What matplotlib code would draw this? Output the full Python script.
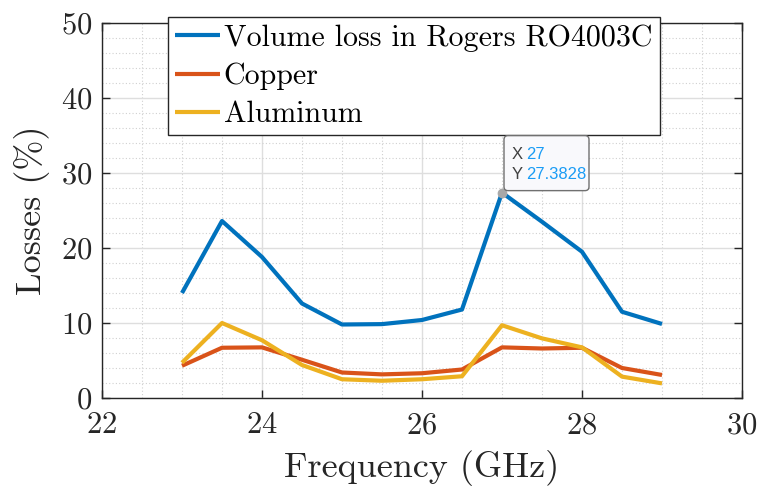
import numpy as np
import matplotlib
matplotlib.use("Agg")
import matplotlib.pyplot as plt
from matplotlib.patches import FancyBboxPatch
from matplotlib.transforms import IdentityTransform

plt.rcParams['font.family'] = ['cmr10', 'DejaVu Serif']
plt.rcParams['axes.formatter.use_mathtext'] = True

# Data
freq = [23, 23.5, 24, 24.5, 25, 25.5, 26, 26.5, 27, 27.5, 28, 28.5, 29]
volume_loss = [14.0, 23.6, 18.8, 12.6, 9.8, 9.85, 10.4, 11.8, 27.3828, 23.5, 19.5, 11.5, 9.87]
copper = [4.3, 6.7, 6.75, 5.1, 3.4, 3.15, 3.3, 3.8, 6.75, 6.6, 6.7, 4.0, 3.07]
aluminum = [4.7, 10.0, 7.7, 4.4, 2.5, 2.3, 2.5, 2.9, 9.7, 7.95, 6.75, 2.85, 1.95]
labels = ['Volume loss in Rogers RO4003C', 'Copper', 'Aluminum']
colors = ['#0072BD', '#D95319', '#EDB120']
tip_x, tip_y = 27, 27.3828

fig = plt.figure(figsize=(7.6, 4.91), dpi=100)
ax = fig.add_axes([102/760, 1 - 398/491, 640/760, 375/491])

for ys, lab, c in zip([volume_loss, copper, aluminum], labels, colors):
    ax.plot(freq, ys, color=c, lw=3, label=lab, solid_capstyle='butt')

ax.set_xlim(22, 30)
ax.set_ylim(0, 50)
ax.set_xticks(np.arange(22, 31, 2))
ax.set_yticks(np.arange(0, 51, 10))
ax.set_xticks(np.arange(22, 30.01, 0.5), minor=True)
ax.set_yticks(np.arange(0, 50.01, 2), minor=True)

ax.grid(which='major', color='#dedede', lw=1)
ax.grid(which='minor', color='#d0d0d0', lw=0.8, ls=(0, (1, 2)))
ax.set_axisbelow(True)

ax.tick_params(which='both', direction='in', top=True, right=True,
               colors='#262626', labelsize=22)
ax.tick_params(which='major', length=6, width=1)
ax.tick_params(which='minor', length=0)
ax.tick_params(axis='x', pad=10)
ax.tick_params(axis='y', pad=7)
for s in ax.spines.values():
    s.set_color('#262626')
    s.set_linewidth(1)

ax.set_xlabel('Frequency (GHz)', fontsize=26, color='#262626', labelpad=8)
ax.set_ylabel('Losses (%)', fontsize=26, color='#262626', labelpad=8)

leg = ax.legend(loc='upper left', bbox_to_anchor=(168/760, 1 - 17/491),
                bbox_transform=fig.transFigure, fontsize=21.6, frameon=True,
                fancybox=False, framealpha=1, edgecolor='#262626',
                handlelength=1.5, handletextpad=0.12, borderpad=0.24,
                labelspacing=0.36, borderaxespad=0)
leg.get_frame().set_linewidth(1)
leg.set_zorder(5)

# data tip
ax.plot([tip_x], [tip_y], 'o', ms=6, color='#a8a8a8', zorder=6)
fig.canvas.draw()
px, py = ax.transData.transform((tip_x, tip_y))
box = FancyBboxPatch((px + 2, py + 2), 85, 55,
                     boxstyle='round,pad=0,rounding_size=4',
                     transform=IdentityTransform(), facecolor='#f9f9fc',
                     edgecolor='#707070', lw=1, zorder=7)
fig.patches.append(box)
tip_font = dict(family='Liberation Sans', fontsize=12, va='center',
                transform=IdentityTransform(), zorder=8)
fig.text(px + 10, py + 38, 'X', color='#404040', **tip_font)
fig.text(px + 24, py + 38, f'{tip_x:g}', color='#1a9cf5', **tip_font)
fig.text(px + 10, py + 18, 'Y', color='#404040', **tip_font)
fig.text(px + 24, py + 18, f'{tip_y:g}', color='#1a9cf5', **tip_font)

fig.savefig('out.png', dpi=100)
